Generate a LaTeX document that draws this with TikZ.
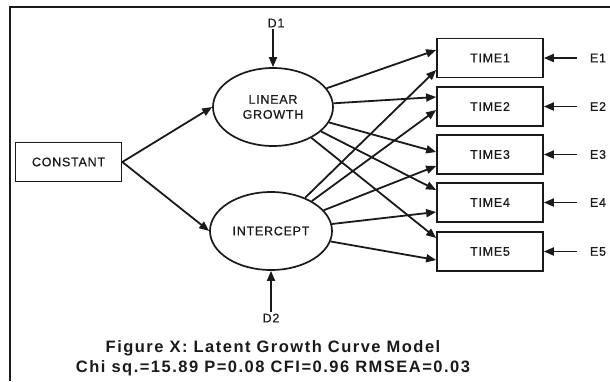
\documentclass[tikz,border=0pt]{standalone}
\usepackage{fontspec}
\setmainfont{Liberation Sans}
\newfontfamily\lblfont{Liberation Sans}[LetterSpace=6, FakeBold=0.6]
\newfontfamily\capfont{Liberation Sans}[LetterSpace=9]
\usetikzlibrary{arrows.meta,shapes.geometric}
\definecolor{ink}{HTML}{1A1A1A}
\tikzset{
  lbl/.style={font=\lblfont\fontsize{12.5}{15}\selectfont, text=ink},
  obsbox/.style={lbl, draw=ink, line width=1.7pt, rectangle, minimum width=106pt, minimum height=39pt, inner sep=0pt},
  latent/.style={lbl, draw=ink, line width=1.7pt, ellipse, minimum width=120pt, minimum height=78pt, inner sep=0pt, align=center},
  errlbl/.style={lbl, inner xsep=12.5pt, inner ysep=1pt},
  dlbl/.style={lbl, inner sep=1.5pt},
  arr/.style={draw=ink, line width=1.8pt, -{Triangle[length=10pt,width=8pt]}},
  caption/.style={font=\capfont\bfseries\fontsize{16.5}{20}\selectfont, text=ink}
}
\begin{document}
\begin{tikzpicture}[x=1pt,y=-1pt]
\useasboundingbox (0,0) rectangle (610,381);
% frame
\draw[ink, line width=2.2pt] (10,381) -- (10,7) -- (610,7);
% nodes
\node[obsbox] (C) at (68.5,162) {CONSTANT};
\node[latent] (L) at (273,107) {LINEAR\\GROWTH};
\node[latent, minimum width=122pt] (I) at (271,231) {INTERCEPT};
\node[dlbl] (D1) at (276,23) {D1};
\node[dlbl] (D2) at (271,318) {D2};
\node[obsbox] (T1) at (490,58) {TIME1};
\node[obsbox] (T2) at (490,106.5) {TIME2};
\node[obsbox] (T3) at (490,154.5) {TIME3};
\node[obsbox] (T4) at (490,202.5) {TIME4};
\node[obsbox] (T5) at (490,251.5) {TIME5};
\node[errlbl] (E1) at (598,58) {E1};
\node[errlbl] (E2) at (598,106.5) {E2};
\node[errlbl] (E3) at (598,154.5) {E3};
\node[errlbl] (E4) at (598,202.5) {E4};
\node[errlbl] (E5) at (598,251.5) {E5};
% connectors
\draw[arr] (C.east) -- (L.west);
\draw[arr] (C.east) -- (I.west);
\draw[arr] (D1.south -| L.north) -- (L.north);
\draw[arr] (D2.north -| I.south) -- (I.south);
\draw[arr] (L) -- ([yshift=8pt]T1.west);
\draw[arr] (L) -- ([yshift=9.5pt]T2.west);
\draw[arr] (L) -- ([yshift=2.5pt]T3.west);
\draw[arr] (L) -- ([yshift=12.5pt]T4.west);
\draw[arr] (L) -- ([yshift=13.5pt]T5.west);
\draw[arr] (I) -- ([yshift=-12pt]T1.west);
\draw[arr] (I) -- ([yshift=-3.5pt]T2.west);
\draw[arr] (I) -- ([yshift=-11.5pt]T3.west);
\draw[arr] (I) -- ([yshift=-9.5pt]T4.west);
\draw[arr] (I) -- ([yshift=-8.5pt]T5.west);
\draw[arr] (E1) -- (T1);
\draw[arr] (E2) -- (T2);
\draw[arr] (E3) -- (T3);
\draw[arr] (E4) -- (T4);
\draw[arr] (E5) -- (T5);
% caption
\node[caption] (cap1) at (273,348) {Figure X: Latent Growth Curve Model};
\node[caption] (cap2) at (273,368) {Chi sq.=15.89 P=0.08 CFI=0.96 RMSEA=0.03};
\end{tikzpicture}
\end{document}
